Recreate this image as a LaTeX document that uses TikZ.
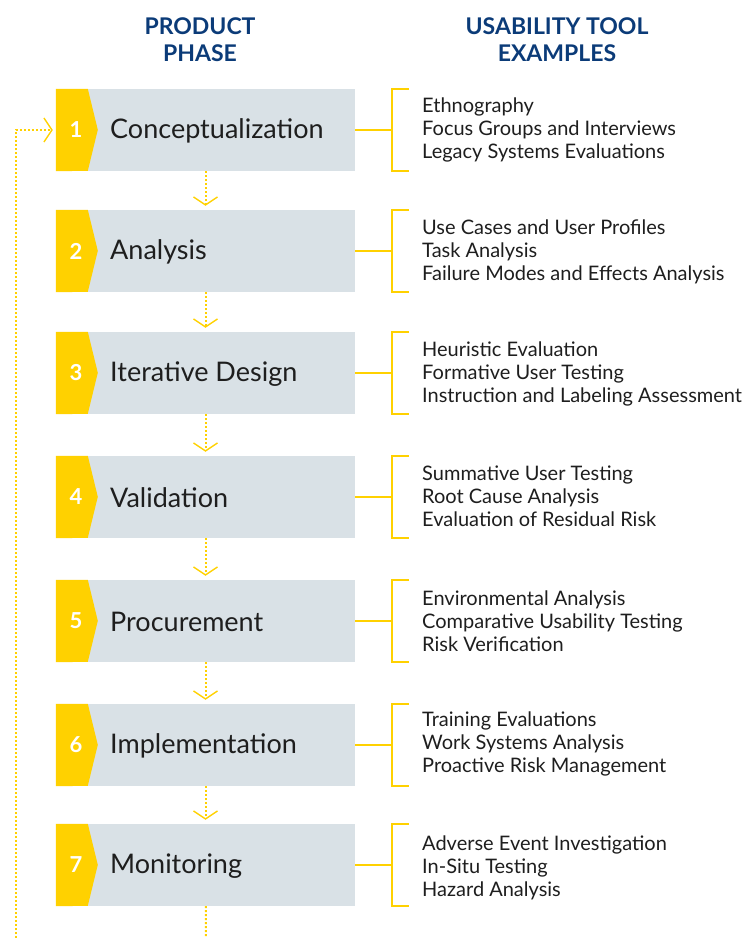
\documentclass[tikz,border=0pt]{standalone}
\usepackage{fontspec}
\setmainfont{Lato}
\usetikzlibrary{arrows.meta}

\definecolor{tabyellow}{HTML}{FFD100}
\definecolor{boxgray}{HTML}{D9E1E6}
\definecolor{headnavy}{HTML}{0B3B78}
\definecolor{txtgray}{HTML}{1E1E1E}

\begin{document}
\begin{tikzpicture}[x=1pt,y=-1pt]
    \tikzstyle{box}=[fill=boxgray,inner sep=0pt,minimum width=299pt,minimum height=82pt]
    \tikzstyle{tab}=[fill=tabyellow]
    \tikzstyle{num}=[text=white,font=\fontsize{22}{22}\selectfont\bfseries,inner sep=0pt]
    \tikzstyle{phase}=[anchor=west,text=txtgray,font=\fontsize{27}{27}\selectfont,inner sep=0pt]
    \tikzstyle{tools}=[anchor=west,align=left,text=txtgray,font=\fontsize{20}{23}\selectfont,inner sep=0pt]
    \tikzstyle{head}=[align=center,text=headnavy,font=\fontsize{23}{27}\selectfont\bfseries,inner sep=0pt]
    \tikzstyle{bracket}=[draw=tabyellow,line width=2pt]
    \tikzstyle{flow}=[draw=tabyellow,line width=2pt,dotted]
    \tikzstyle{tip}=[-{Straight Barb[length=8pt,width=24pt,line width=1.4pt]}]
    \useasboundingbox (0,0) rectangle (755,938);

    % headings
    \node[head] (h1) at (200,40) {PRODUCT\\PHASE};
    \node[head] (h2) at (557,40) {USABILITY TOOL\\EXAMPLES};

    % phase boxes
    \node[box] (p1) at (205.5,130) {};
    \node[box] (p2) at (205.5,251) {};
    \node[box] (p3) at (205.5,373) {};
    \node[box] (p4) at (205.5,497) {};
    \node[box] (p5) at (205.5,621) {};
    \node[box] (p6) at (205.5,745) {};
    \node[box] (p7) at (205.5,865) {};

    % yellow tabs
    \fill[tab] (p1.north west) -- ++(32,0) -- ++(10,41) -- ++(-10,41) -- (p1.south west) -- cycle;
    \fill[tab] (p2.north west) -- ++(32,0) -- ++(10,41) -- ++(-10,41) -- (p2.south west) -- cycle;
    \fill[tab] (p3.north west) -- ++(32,0) -- ++(10,41) -- ++(-10,41) -- (p3.south west) -- cycle;
    \fill[tab] (p4.north west) -- ++(32,0) -- ++(10,41) -- ++(-10,41) -- (p4.south west) -- cycle;
    \fill[tab] (p5.north west) -- ++(32,0) -- ++(10,41) -- ++(-10,41) -- (p5.south west) -- cycle;
    \fill[tab] (p6.north west) -- ++(32,0) -- ++(10,41) -- ++(-10,41) -- (p6.south west) -- cycle;
    \fill[tab] (p7.north west) -- ++(32,0) -- ++(10,41) -- ++(-10,41) -- (p7.south west) -- cycle;

    \node[num] (n1) at (76,130) {1};
    \node[num] (n2) at (76,251) {2};
    \node[num] (n3) at (76,373) {3};
    \node[num] (n4) at (76,497) {4};
    \node[num] (n5) at (76,621) {5};
    \node[num] (n6) at (76,745) {6};
    \node[num] (n7) at (76,865) {7};

    \node[phase] (l1) at (110,131) {Conceptualization};
    \node[phase] (l2) at (110,252) {Analysis};
    \node[phase] (l3) at (110,374) {Iterative Design};
    \node[phase] (l4) at (110,498) {Validation};
    \node[phase] (l5) at (110,622) {Procurement};
    \node[phase] (l6) at (110,746) {Implementation};
    \node[phase] (l7) at (110,866) {Monitoring};

    % tool lists
    \node[tools] (t1) at (422,130) {Ethnography\\Focus Groups and Interviews\\Legacy Systems Evaluations};
    \node[tools] (t2) at (422,252) {Use Cases and User Profiles\\Task Analysis\\Failure Modes and Effects Analysis};
    \node[tools] (t3) at (422,374) {Heuristic Evaluation\\Formative User Testing\\Instruction and Labeling Assessment};
    \node[tools] (t4) at (422,496) {Summative User Testing\\Root Cause Analysis\\Evaluation of Residual Risk};
    \node[tools] (t5) at (422,621) {Environmental Analysis\\Comparative Usability Testing\\Risk Verification};
    \node[tools] (t6) at (422,744) {Training Evaluations\\Work Systems Analysis\\Proactive Risk Management};
    \node[tools] (t7) at (422,868) {Adverse Event Investigation\\In-Situ Testing\\Hazard Analysis};

    % brackets
    \draw[bracket] (p1.east) -- ++(37,0);
    \draw[bracket] ([xshift=54pt]p1.north east) -| ([xshift=37pt]p1.south east) -- ([xshift=54pt]p1.south east);
    \draw[bracket] (p2.east) -- ++(37,0);
    \draw[bracket] ([xshift=54pt]p2.north east) -| ([xshift=37pt]p2.south east) -- ([xshift=54pt]p2.south east);
    \draw[bracket] (p3.east) -- ++(37,0);
    \draw[bracket] ([xshift=54pt]p3.north east) -| ([xshift=37pt]p3.south east) -- ([xshift=54pt]p3.south east);
    \draw[bracket] (p4.east) -- ++(37,0);
    \draw[bracket] ([xshift=54pt]p4.north east) -| ([xshift=37pt]p4.south east) -- ([xshift=54pt]p4.south east);
    \draw[bracket] (p5.east) -- ++(37,0);
    \draw[bracket] ([xshift=54pt]p5.north east) -| ([xshift=37pt]p5.south east) -- ([xshift=54pt]p5.south east);
    \draw[bracket] (p6.east) -- ++(37,0);
    \draw[bracket] ([xshift=54pt]p6.north east) -| ([xshift=37pt]p6.south east) -- ([xshift=54pt]p6.south east);
    \draw[bracket] (p7.east) -- ++(37,0);
    \draw[bracket] ([xshift=54pt]p7.north east) -| ([xshift=37pt]p7.south east) -- ([xshift=54pt]p7.south east);

    % dotted flow
    \draw[flow,tip,shorten >=4pt] (p1) -- (p2);
    \draw[flow,tip,shorten >=4pt] (p2) -- (p3);
    \draw[flow,tip,shorten >=4pt] (p3) -- (p4);
    \draw[flow,tip,shorten >=4pt] (p4) -- (p5);
    \draw[flow,tip,shorten >=4pt] (p5) -- (p6);
    \draw[flow,tip,shorten >=4pt] (p6) -- (p7);
    \coordinate (e7) at (206,938);
    \draw[flow] (p7) -- (e7);
    \coordinate (s) at (16,938);
    \draw[flow,tip,shorten >=3pt] (s) |- (p1.west);
\end{tikzpicture}
\end{document}
